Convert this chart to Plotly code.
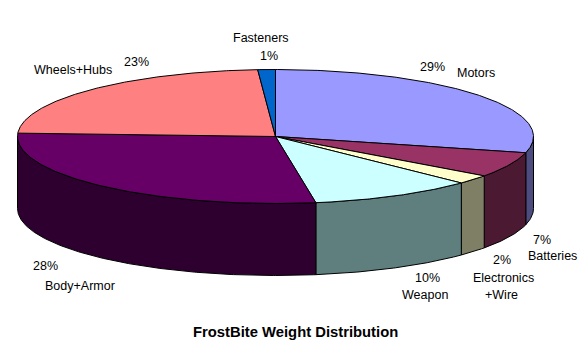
import numpy as np
import plotly.graph_objects as go

categories = ["Motors", "Batteries", "Electronics+Wire", "Weapon", "Body+Armor", "Wheels+Hubs", "Fasteners"]
values = [28.9, 6.1, 2.2, 10.3, 28.3, 23.1, 1.1]
percent_labels = ["29%", "7%", "2%", "10%", "28%", "23%", "1%"]
top_colors = ["#9999FF", "#993366", "#FFFFCC", "#CCFFFF", "#660066", "#FF8080", "#0066CC"]
side_colors = ["#4C4C7F", "#4C1933", "#7F7F66", "#5F7F7F", "#2D002F", "#7F4040", "#003366"]
title_text = "FrostBite Weight Distribution"

CX, CY, RX, RY, DEPTH = 275.5, 136.5, 258.0, 67.0, 72.0
FONT = "Liberation Sans"


def arc(a0, a1, dy=0.0):
    n = max(2, int(abs(a1 - a0) * 2) + 2)
    t = np.radians(np.linspace(a0, a1, n))
    return CX + RX * np.sin(t), CY - RY * np.cos(t) + dy


fig = go.Figure()
edges = np.concatenate([[0], np.cumsum(values)]) / sum(values) * 360


def poly(x, y, color, name):
    fig.add_trace(go.Scatter(
        x=list(x) + [x[0]], y=list(y) + [y[0]], mode="lines", fill="toself",
        fillcolor=color, line=dict(color="black", width=1), name=name,
        hoverinfo="name", showlegend=False))


# outer walls, only the front half of the disc is visible
for i, name in enumerate(categories):
    a0, a1 = max(edges[i], 90), min(edges[i + 1], 270)
    if a1 > a0:
        xt, yt = arc(a0, a1)
        xb, yb = arc(a1, a0, DEPTH)
        poly(np.concatenate([xt, xb]), np.concatenate([yt, yb]), side_colors[i], name)

# top face
for i, name in enumerate(categories):
    xt, yt = arc(edges[i], edges[i + 1])
    poly(np.concatenate([[CX], xt]), np.concatenate([[CY], yt]), top_colors[i], name)

# label text, position
labels = [
    ("Fasteners", 260.5, 38), (percent_labels[6], 269, 56),
    ("Wheels+Hubs", 72.5, 70), (percent_labels[5], 136.5, 62),
    (percent_labels[0], 432, 67), ("Motors", 476, 73),
    (percent_labels[1], 542, 240), ("Batteries", 552, 256),
    (percent_labels[2], 502, 260), ("Electronics", 503, 278), ("+Wire", 501, 295),
    (percent_labels[3], 427, 278), ("Weapon", 425, 295),
    (percent_labels[4], 45, 266), ("Body+Armor", 80, 286),
]
for text, x, y in labels:
    fig.add_annotation(x=x, y=y, text=text, showarrow=False, xref="x", yref="y",
                       font=dict(family=FONT, size=12.5, color="black"))
fig.add_annotation(x=295.5, y=332, text="<b>" + title_text + "</b>", showarrow=False,
                   xref="x", yref="y", font=dict(family=FONT, size=14.8, color="black"))

fig.update_layout(
    width=588, height=359, autosize=False, margin=dict(l=0, r=0, t=0, b=0),
    paper_bgcolor="white", plot_bgcolor="white", showlegend=False,
    xaxis=dict(range=[0, 588], visible=False, fixedrange=True),
    yaxis=dict(range=[359, 0], visible=False, fixedrange=True),
)
fig.write_html("out.html", config={"displayModeBar": False},
               post_script="document.body.style.margin='0';document.body.style.overflow='hidden';")
